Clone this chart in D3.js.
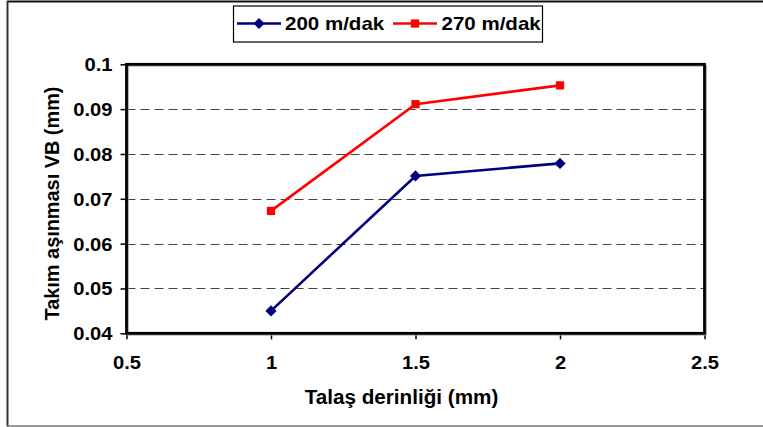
<!DOCTYPE html>
<html>
<head>
<meta charset="utf-8">
<script src="https://cdn.jsdelivr.net/npm/d3@7"></script>
<style>
  html, body { margin: 0; padding: 0; background: #fff; }
  svg { display: block; }
  text { font-family: "Liberation Sans", Arial, Helvetica, sans-serif; font-weight: bold; fill: #000; }
</style>
</head>
<body>
<svg id="chart" width="763" height="427"></svg>
<script>
// Tool wear (VB) against depth of cut for two cutting speeds
const depths = [1, 1.5, 2];
const wear200 = [0.045, 0.0751, 0.0779];
const wear270 = [0.0673, 0.0911, 0.0953];
const seriesNames = ["200 m/dak", "270 m/dak"];
const xTicks = [0.5, 1, 1.5, 2, 2.5];
const yTicks = [0.04, 0.05, 0.06, 0.07, 0.08, 0.09, 0.1];
const xTitle = "Talaş derinliği (mm)";
const yTitle = "Takım aşınması VB (mm)";

const svg = d3.select("#chart");
const W = 763, H = 427;
const plot = { left: 126.5, right: 704.5, top: 64.3, bottom: 333.3 };

const x = d3.scaleLinear().domain([0.5, 2.5]).range([plot.left, plot.right]);
const y = d3.scaleLinear().domain([0.04, 0.1]).range([plot.bottom, plot.top]);

// outer frame of the chart object
svg.append("line").attr("x1", 7).attr("x2", W).attr("y1", 1.5).attr("y2", 1.5)
  .attr("stroke", "#111").attr("stroke-width", 2);
svg.append("line").attr("x1", 7.5).attr("x2", 7.5).attr("y1", 1).attr("y2", 426.5)
  .attr("stroke", "#333").attr("stroke-width", 2);
svg.append("line").attr("x1", 7).attr("x2", W).attr("y1", 426).attr("y2", 426)
  .attr("stroke", "#777").attr("stroke-width", 1.5);

// helper: bold text slightly widened horizontally
function label(g, str, tx, ty, size, sx, anchor, rotate) {
  const t = g.append("text")
    .attr("transform", `translate(${tx},${ty})${rotate ? ` rotate(${rotate})` : ""} scale(${sx},1)`)
    .attr("font-size", size + "px")
    .attr("text-anchor", anchor)
    .text(str);
  return t;
}

// horizontal dashed gridlines, snapped to the pixel grid
svg.append("g")
  .selectAll("line")
  .data(yTicks.filter(d => d > 0.04 && d < 0.1))
  .join("line")
  .attr("x1", plot.left).attr("x2", plot.right)
  .attr("y1", d => Math.round(y(d)) + 0.5).attr("y2", d => Math.round(y(d)) + 0.5)
  .attr("stroke", "#444").attr("stroke-width", 1)
  .attr("stroke-dasharray", "9,5");

// axes
const yAxis = svg.append("g")
  .attr("transform", `translate(${plot.left},0)`)
  .call(d3.axisLeft(y).tickValues(yTicks).tickSize(6).tickFormat(d => String(d)));
const xAxis = svg.append("g")
  .attr("transform", `translate(0,${plot.bottom})`)
  .call(d3.axisBottom(x).tickValues(xTicks).tickSize(6).tickFormat(d => String(d)));

[yAxis, xAxis].forEach(a => {
  a.select(".domain").remove();
  a.selectAll(".tick line").attr("stroke", "#000").attr("stroke-width", 1.5);
  a.selectAll(".tick text").remove();
});

yAxis.selectAll(".tick").each(function (d) {
  label(d3.select(this), String(d), -14, 6.5, 18, 1.12, "end");
});
xAxis.selectAll(".tick").each(function (d) {
  label(d3.select(this), String(d), 0, 36, 18, 1.12, "middle");
});

// plot area frame with a faint shadow
svg.append("rect")
  .attr("x", plot.left + 1.5).attr("y", plot.top + 1.5)
  .attr("width", plot.right - plot.left).attr("height", plot.bottom - plot.top)
  .attr("fill", "none").attr("stroke", "#999").attr("stroke-width", 1.5);
svg.append("rect")
  .attr("x", plot.left).attr("y", plot.top)
  .attr("width", plot.right - plot.left).attr("height", plot.bottom - plot.top)
  .attr("fill", "none").attr("stroke", "#000").attr("stroke-width", 2.8);

// series
const series = [
  { name: seriesNames[0], values: wear200, color: "#000080", marker: "diamond" },
  { name: seriesNames[1], values: wear270, color: "#ff0000", marker: "square" }
];
const line = d3.line().x(d => x(d[0])).y(d => y(d[1]));
const sym = {
  diamond: d3.symbol().type(d3.symbolDiamond2 || d3.symbolDiamond).size(80),
  square: d3.symbol().type(d3.symbolSquare).size(68)
};

series.forEach(s => {
  const pts = depths.map((d, i) => [d, s.values[i]]);
  svg.append("path").datum(pts)
    .attr("d", line).attr("fill", "none")
    .attr("stroke", s.color).attr("stroke-width", 2.6);
  svg.append("g").selectAll("path").data(pts).join("path")
    .attr("transform", d => `translate(${x(d[0])},${y(d[1])})`)
    .attr("d", sym[s.marker]).attr("fill", s.color);
});

// axis titles
label(svg, xTitle, 401.5, 403.5, 19.5, 1.06, "middle");
label(svg, yTitle, 58.5, 203.5, 19.5, 1.02, "middle", -90);

// legend
const lg = svg.append("g");
lg.append("rect").attr("x", 233.5).attr("y", 6).attr("width", 309).attr("height", 36)
  .attr("fill", "#fff").attr("stroke", "#000").attr("stroke-width", 1.2);
const legendItems = [
  { s: series[0], x0: 237, x1: 281, tx: 285 },
  { s: series[1], x0: 393, x1: 437, tx: 441.5 }
];
legendItems.forEach(it => {
  lg.append("line").attr("x1", it.x0).attr("x2", it.x1).attr("y1", 23.5).attr("y2", 23.5)
    .attr("stroke", it.s.color).attr("stroke-width", 2.6);
  lg.append("path").attr("transform", `translate(${(it.x0 + it.x1) / 2},23.5)`)
    .attr("d", sym[it.s.marker]).attr("fill", it.s.color);
  label(lg, it.s.name, it.tx, 29.5, 18, 1.14, "start");
});
</script>
</body>
</html>
